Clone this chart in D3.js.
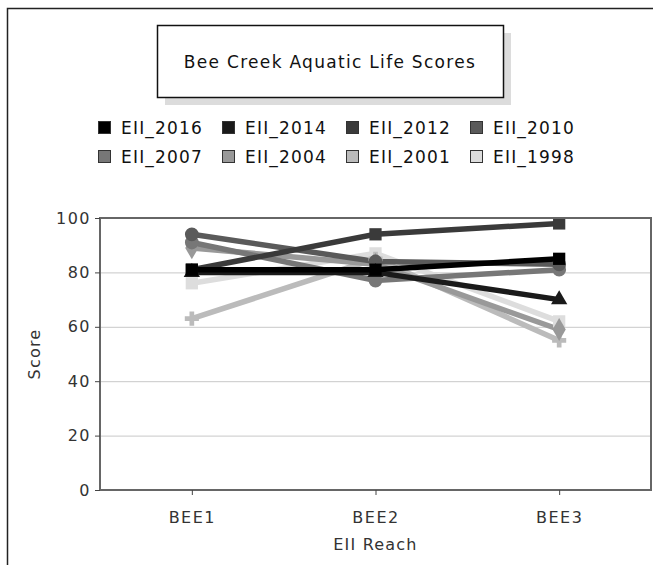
<!DOCTYPE html>
<html>
<head>
<meta charset="utf-8">
<script src="https://cdn.jsdelivr.net/npm/d3@7"></script>
<style>
body { margin: 0; background: #fff; }
text { font-family: "DejaVu Sans", sans-serif; }
</style>
</head>
<body>
<div id="chart"></div>
<script>
// data
const reaches = ["BEE1", "BEE2", "BEE3"];
const seriesNames = ["EII_2016", "EII_2014", "EII_2012", "EII_2010", "EII_2007", "EII_2004", "EII_2001", "EII_1998"];
const seriesColors = ["#000000", "#1a1a1a", "#3a3a3a", "#5a5a5a", "#777777", "#999999", "#bbbbbb", "#dddddd"];
const eii2016 = [81, 81, 85];
const eii2014 = [80, 80, 70];
const eii2012 = [81, 94, 98];
const eii2010 = [94, 84, 83];
const eii2007 = [91, 77, 81];
const eii2004 = [89, 83, 59];
const eii2001 = [63, 85, 55];
const eii1998 = [76, 87, 62];
const yTicks = [0, 20, 40, 60, 80, 100];

const seriesValues = [eii2016, eii2014, eii2012, eii2010, eii2007, eii2004, eii2001, eii1998];
const shapes = [d3.symbolSquare, d3.symbolTriangle, d3.symbolSquare, d3.symbolCircle,
	d3.symbolCircle, d3.symbolDiamond, d3.symbolCross, d3.symbolSquare];
const shapeSize = [150, 115, 150, 150, 150, 150, 110, 150];

const width = 653, height = 565;
const plot = { left: 100, top: 218, right: 651, bottom: 490 };

const svg = d3.select('#chart').append('svg')
	.attr('width', width)
	.attr('height', height);

svg.append('rect').attr('width', width).attr('height', height).attr('fill', '#fff');

// outer frame (only left and top show)
svg.append('path')
	.attr('d', `M7.5,${height} V8.5 H${width}`)
	.attr('fill', 'none').attr('stroke', '#222').attr('stroke-width', 1.5);

// title box with shadow
svg.append('rect').attr('x', 165).attr('y', 33).attr('width', 346).attr('height', 72).attr('fill', '#dcdcdc');
svg.append('rect').attr('x', 157.5).attr('y', 25.5).attr('width', 346).attr('height', 72)
	.attr('fill', '#fff').attr('stroke', '#111').attr('stroke-width', 1.5);
svg.append('text')
	.attr('x', 330).attr('y', 68)
	.attr('text-anchor', 'middle')
	.attr('font-size', 17).attr('letter-spacing', 1.3)
	.attr('fill', '#111')
	.text('Bee Creek Aquatic Life Scores');

// legend
const legend = svg.append('g');
seriesNames.forEach((name, i) => {
	const lx = 98 + (i % 4) * 124;
	const ly = 128 + Math.floor(i / 4) * 29;
	legend.append('rect')
		.attr('x', lx + 0.5).attr('y', ly - 6.5)
		.attr('width', 12).attr('height', 12)
		.attr('fill', seriesColors[i]).attr('stroke', '#333');
	legend.append('text')
		.attr('x', lx + 23).attr('y', ly + 6)
		.attr('font-size', 17).attr('letter-spacing', 1.2)
		.attr('fill', '#111')
		.text(name);
});

const xScale = d3.scalePoint()
	.domain(reaches)
	.range([plot.left, plot.right])
	.padding(0.5);
const yScale = d3.scaleLinear()
	.domain([0, 100])
	.range([plot.bottom, plot.top]);

// gridlines
svg.append('g')
	.selectAll('line')
	.data(yTicks.filter(t => t > 0 && t < 100))
	.join('line')
	.attr('x1', plot.left).attr('x2', plot.right)
	.attr('y1', d => yScale(d) + 0.5).attr('y2', d => yScale(d) + 0.5)
	.attr('stroke', '#c8c8c8');

// lines, light series first so the dark ones sit on top
const line = d3.line()
	.x((d, i) => xScale(reaches[i]))
	.y(d => yScale(d));

const order = d3.range(seriesNames.length).reverse();
const marks = svg.append('g');
order.forEach(i => {
	marks.append('path')
		.datum(seriesValues[i])
		.attr('d', line)
		.attr('fill', 'none')
		.attr('stroke', seriesColors[i])
		.attr('stroke-width', 5.5);
});
order.forEach(i => {
	marks.selectAll(null)
		.data(seriesValues[i])
		.join('path')
		.attr('transform', (d, j) => `translate(${xScale(reaches[j])},${yScale(d)})`)
		.attr('d', d3.symbol().type(shapes[i]).size(shapeSize[i]))
		.attr('fill', seriesColors[i]);
});

// plot border
svg.append('rect')
	.attr('x', plot.left).attr('y', plot.top)
	.attr('width', plot.right - plot.left).attr('height', plot.bottom - plot.top)
	.attr('fill', 'none').attr('stroke', '#666').attr('stroke-width', 2);

// axes
const yAxis = svg.append('g')
	.attr('transform', `translate(${plot.left},0)`)
	.call(d3.axisLeft(yScale).tickValues(yTicks).tickSize(5).tickPadding(4))
	.call(g => g.select('.domain').remove());
const xAxis = svg.append('g')
	.attr('transform', `translate(0,${plot.bottom})`)
	.call(d3.axisBottom(xScale).tickSize(5).tickPadding(17))
	.call(g => g.select('.domain').remove());
[yAxis, xAxis].forEach(a => {
	a.selectAll('line').attr('stroke', '#444');
	a.selectAll('text')
		.attr('font-family', '"DejaVu Sans", sans-serif')
		.attr('font-size', 16).attr('letter-spacing', 1.5)
		.attr('fill', '#333');
});

svg.append('text')
	.attr('transform', `translate(40,${(plot.top + plot.bottom) / 2}) rotate(-90)`)
	.attr('text-anchor', 'middle')
	.attr('font-size', 16).attr('letter-spacing', 1.2)
	.attr('fill', '#333')
	.text('Score');
svg.append('text')
	.attr('x', (plot.left + plot.right) / 2).attr('y', 550)
	.attr('text-anchor', 'middle')
	.attr('font-size', 16).attr('letter-spacing', 1.2)
	.attr('fill', '#333')
	.text('EII Reach');
</script>
</body>
</html>
